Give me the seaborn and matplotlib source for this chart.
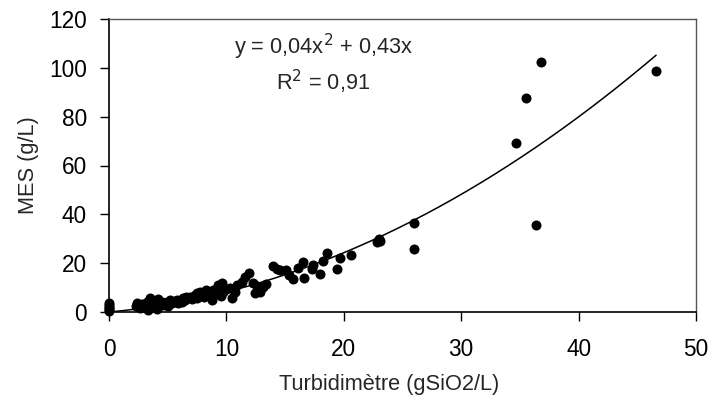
import numpy as np
import pandas as pd
import matplotlib
matplotlib.use("Agg")
import matplotlib.pyplot as plt
import seaborn as sns

# Data
turbidity = [0, 0, 0, 0, 0, 0,
             2.3, 2.4, 2.6, 2.8, 3.0, 3.2, 3.3, 3.5, 3.6, 3.8, 3.9, 4.1, 4.2, 4.3,
             4.5, 4.7, 4.9, 5.0, 5.2, 5.4, 5.6, 5.75, 5.9, 6.2, 6.3, 6.5, 6.6, 6.9,
             7.1, 7.3, 7.5, 7.5, 7.75, 7.9, 8.1, 8.3, 8.3, 8.5, 8.75, 8.9, 9.1, 9.3,
             9.5, 9.6, 9.7, 10.0, 10.3, 10.45, 10.7, 10.9, 11.3, 11.6, 11.9, 12.3,
             12.4, 12.6, 12.9, 13.1, 13.4, 14.0, 14.3, 14.6, 15.1, 15.3, 15.7, 16.1,
             16.55, 16.6, 17.3, 17.4, 18.0, 18.2, 18.6, 19.4, 19.7, 20.6, 22.86,
             23.0, 23.08, 25.98, 26.0, 34.7, 35.5, 36.4, 36.8, 46.6]
mes = [0.3, 0.8, 1.5, 2.2, 3.0, 3.5,
       2.5, 3.8, 1.5, 3.2, 2.0, 4.0, 1.0, 5.6, 2.8, 4.5, 3.5, 1.1, 5.5, 2.3,
       4.0, 3.0, 4.2, 2.5, 5.0, 3.5, 4.5, 4.9, 3.8, 4.2, 5.6, 4.8, 6.3, 6.3,
       5.2, 7.0, 5.6, 7.7, 8.3, 6.5, 6.0, 7.7, 9.0, 6.8, 4.9, 9.0, 7.5, 11.1,
       6.5, 11.8, 8.3, 9.5, 9.7, 5.6, 8.0, 11.1, 12.4, 14.5, 15.9, 11.8,
       7.6, 10.5, 8.3, 10.4, 11.5, 18.9, 17.5, 17.2, 17.2, 15.2, 13.4, 17.9,
       20.6, 13.8, 17.5, 19.3, 15.6, 21.0, 24.0, 17.6, 22.0, 23.4, 28.7,
       29.8, 29.2, 36.5, 25.9, 69.1, 87.7, 35.5, 102.5, 98.6]

# Polynomial trendline coefficients (y = a x^2 + b x)
trend_a = 0.0392
trend_b = 0.43
x_ticks = [0, 10, 20, 30, 40, 50]
y_ticks = [0, 20, 40, 60, 80, 100, 120]

sns.set_style("ticks")
plt.rcParams["font.family"] = ["Liberation Sans", "DejaVu Sans"]

fs = 15.7
tfs = 16.3
fig = plt.figure(figsize=(7.1, 4.05), dpi=100)
ax = fig.add_axes([109/710, 1 - 312/405, (696 - 109)/710, (312 - 19)/405])

df = pd.DataFrame({"x": turbidity, "y": mes})
xs = np.linspace(0, max(turbidity), 200)
trend = pd.DataFrame({"x": xs, "y": trend_a * xs**2 + trend_b * xs})

sns.lineplot(data=trend, x="x", y="y", ax=ax, color="black", linewidth=1.1)
sns.scatterplot(data=df, x="x", y="y", ax=ax, color="black", s=52,
                edgecolor="black", linewidth=0, zorder=3, clip_on=False)

ax.set_xlim(0, 50)
ax.set_ylim(0, 120)
ax.set_xticks(x_ticks)
ax.set_yticks(y_ticks)
ax.tick_params(axis="both", direction="out", length=6.5, width=1.0,
               labelsize=tfs, colors="black")
ax.tick_params(axis="x", pad=12.3)
ax.tick_params(axis="y", pad=9.5)

for side in ["left", "bottom"]:
    ax.spines[side].set_color("black")
    ax.spines[side].set_linewidth(1.2)
for side in ["top", "right"]:
    ax.spines[side].set_visible(True)
    ax.spines[side].set_color("#555555")
    ax.spines[side].set_linewidth(1.0)

ax.set_xlabel("Turbidimètre (gSiO2/L)", fontsize=fs, labelpad=9)
ax.set_ylabel("MES (g/L)", fontsize=fs, labelpad=7)
ax.xaxis.label.set_x(0.478)

ax.text(0.365, 0.905, "y = 0,04x$^{2}$ + 0,43x", transform=ax.transAxes,
        ha="center", va="center", fontsize=fs)
ax.text(0.365, 0.785, "R$^{2}$ = 0,91", transform=ax.transAxes,
        ha="center", va="center", fontsize=fs)

fig.savefig("out.png", dpi=100)
